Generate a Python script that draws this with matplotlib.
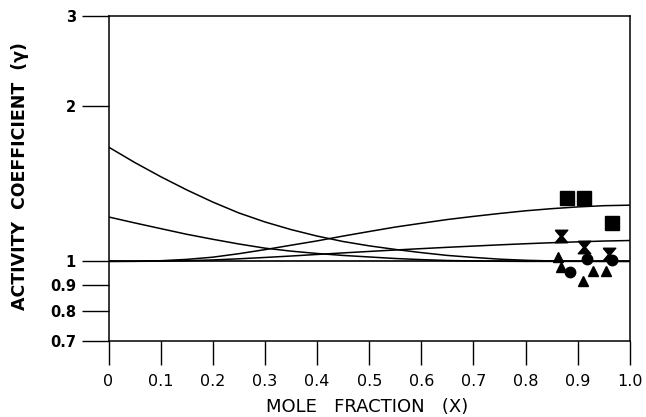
import matplotlib
matplotlib.use('Agg')
import matplotlib.pyplot as plt

# mole fraction grid the curves were read at
x_curve = [0, 0.05, 0.1, 0.15, 0.2, 0.25, 0.3, 0.35, 0.4, 0.45, 0.5,
           0.55, 0.6, 0.65, 0.7, 0.75, 0.8, 0.85, 0.9, 0.95, 1.0]
# falling curves
gamma_a = [1.668, 1.557, 1.461, 1.377, 1.304, 1.242, 1.193, 1.153, 1.120, 1.093, 1.072,
           1.055, 1.040, 1.027, 1.018, 1.010, 1.005, 1.002, 1.001, 1.0, 1.0]
gamma_b = [1.220, 1.188, 1.158, 1.129, 1.104, 1.081, 1.061, 1.047, 1.036, 1.027, 1.020,
           1.013, 1.008, 1.004, 1.002, 1.0005, 1.0, 1.0, 1.0, 1.0, 1.0]
# rising curves
gamma_c = [1.0, 1.0005, 1.003, 1.009, 1.019, 1.035, 1.054, 1.075, 1.096, 1.120, 1.143,
           1.166, 1.186, 1.206, 1.223, 1.239, 1.254, 1.266, 1.276, 1.283, 1.286]
gamma_d = [1.0, 1.0002, 1.001, 1.003, 1.0065, 1.0116, 1.0177, 1.0243, 1.0315, 1.0387, 1.0455,
           1.0523, 1.0587, 1.065, 1.0709, 1.0768, 1.0822, 1.0871, 1.0914, 1.0953, 1.0979]

# measured points
sq_x = [0.880, 0.912, 0.966]
sq_y = [1.33, 1.33, 1.185]
hg_x = [0.867, 0.913, 0.960]
hg_y = [1.12, 1.065, 1.035]
ci_x = [0.885, 0.917, 0.966]
ci_y = [0.955, 1.01, 1.005]
tr_x = [0.862, 0.867, 0.911, 0.930, 0.955]
tr_y = [1.018, 0.975, 0.917, 0.959, 0.957]

xticks = [0, 0.1, 0.2, 0.3, 0.4, 0.5, 0.6, 0.7, 0.8, 0.9, 1.0]
xlabels = ['0', '0.1', '0.2', '0.3', '0.4', '0.5', '0.6', '0.7', '0.8', '0.9', '1.0']
yticks = [0.7, 0.8, 0.9, 1, 2, 3]
ylabels = ['0.7', '0.8', '0.9', '1', '2', '3']

fig = plt.figure(figsize=(6.46, 4.17), dpi=100)
ax = fig.add_axes([0.168, 0.182, 0.807, 0.780])

for g in (gamma_a, gamma_b, gamma_c, gamma_d):
    ax.plot(x_curve, g, color='black', lw=1.1)
ax.axhline(1, color='black', lw=1.2)

hourglass = [(-1, 1), (1, 1), (0.15, 0), (1, -1), (-1, -1), (-0.15, 0), (-1, 1)]
ax.plot(sq_x, sq_y, 's', color='black', ms=9.5, ls='none')
ax.plot(hg_x, hg_y, marker=hourglass, color='black', ms=9, ls='none')
ax.plot(ci_x, ci_y, 'o', color='black', ms=7.5, ls='none')
ax.plot(tr_x, tr_y, '^', color='black', ms=7.5, ls='none')

ax.set_yscale('log')
ax.set_xlim(0, 1.0)
ax.set_ylim(0.7, 3)
ax.minorticks_off()
ax.set_xticks(xticks)
ax.set_xticklabels(xlabels, fontsize=11.5)
ax.set_yticks(yticks)
ax.set_yticklabels(ylabels, fontsize=10.5, fontweight='bold')
ax.tick_params(axis='y', direction='out', length=19.5, width=1.0, pad=4)
ax.tick_params(axis='x', direction='out', length=17, width=1.0, pad=7)
for s in ax.spines.values():
    s.set_linewidth(1.1)

fig.text(20 / 646, 1 - 176 / 417, 'ACTIVITY  COEFFICIENT  (γ)', rotation=90,
         ha='center', va='center', fontsize=12.5, fontweight='bold')
fig.text(367 / 646, 1 - 407 / 417, 'MOLE   FRACTION   (X)',
         ha='center', va='center', fontsize=13)

fig.savefig('out.png', dpi=100)
